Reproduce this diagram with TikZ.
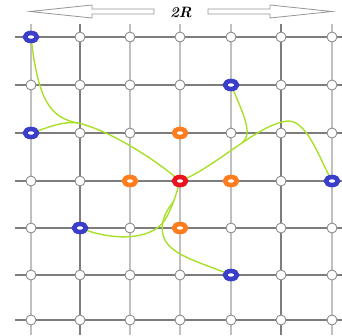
\documentclass[tikz,border=0pt]{standalone}
\usetikzlibrary{shapes.geometric}
\definecolor{ringblue}{RGB}{58,62,200}
\definecolor{ringorange}{RGB}{255,125,30}
\definecolor{ringred}{RGB}{232,20,32}
\definecolor{curvegreen}{RGB}{168,224,40}
\definecolor{griddark}{RGB}{125,125,125}
\definecolor{gridlight}{RGB}{192,192,192}
\definecolor{nodegray}{RGB}{140,140,140}
\definecolor{arrowgray}{RGB}{150,150,150}
\pgfdeclarelayer{gridlayer}
\pgfdeclarelayer{curvelayer}
\pgfsetlayers{gridlayer,curvelayer,main}
\def\setkind#1#2#3{\expandafter\def\csname nodekind#1-#2\endcsname{#3}}
\setkind{1}{1}{bluering}
\setkind{5}{2}{bluering}
\setkind{1}{3}{bluering}
\setkind{7}{4}{bluering}
\setkind{2}{5}{bluering}
\setkind{5}{6}{bluering}
\setkind{4}{3}{orangering}
\setkind{3}{4}{orangering}
\setkind{5}{4}{orangering}
\setkind{4}{5}{orangering}
\setkind{4}{4}{redring}
\begin{document}
\begin{tikzpicture}[x=1pt,y=-1pt,
  plain/.style={circle,draw=nodegray,fill=white,line width=0.9pt,minimum size=10pt,inner sep=0pt},
  ring/.style={ellipse,fill=white,line width=4.6pt,minimum width=12pt,minimum height=8pt,inner sep=0pt},
  bluering/.style={ring,draw=ringblue},
  orangering/.style={ring,draw=ringorange},
  redring/.style={ring,draw=ringred},
  curve/.style={draw=curvegreen,line width=1.4pt},
  hline/.style={draw=griddark,line width=1.5pt},
  vlight/.style={draw=gridlight,line width=1.5pt},
  vdark/.style={draw=griddark,line width=1.5pt},
  openarrow/.style={draw=arrowgray,fill=white,line width=0.8pt,line join=miter},
  label/.style={font=\fontsize{15}{15}\selectfont\bfseries\itshape,inner sep=0pt}
]
\useasboundingbox (0,0) rectangle (342,335);
% nodes
\foreach \x [count=\i] in {31,80,130,180,231,281,332}{
  \foreach \y [count=\j] in {37,85,133,181,228,275,320}{
    \ifcsname nodekind\i-\j\endcsname
      \expandafter\let\expandafter\kind\csname nodekind\i-\j\endcsname
    \else
      \def\kind{plain}
    \fi
    \node[\kind] (n\i-\j) at (\x,\y) {};
  }
}
% grid
\begin{pgfonlayer}{gridlayer}
  \foreach \x/\s in {31/vlight,80/vdark,130/vlight,180/vlight,231/vlight,281/vdark,332/vlight}
    \draw[\s] (\x,24) -- (\x,335);
  \foreach \y in {37,85,133,181,228,275,320}
    \draw[hline] (15,\y) -- (342,\y);
\end{pgfonlayer}
% curves
\begin{pgfonlayer}{curvelayer}
  \coordinate (jA) at (78,123);
  \draw[curve] (n1-1.center) .. controls (38,100) and (50,118) .. (jA)
     .. controls (105,129) and (150,155) .. (n4-4.center);
  \draw[curve] (n1-3.center) .. controls (50,127) and (62,121) .. (jA);
  \draw[curve] (n7-4.center) .. controls (320,160) and (308,122) .. (289,121)
     .. controls (260,122) and (215,168) .. (n4-4.center) coordinate[pos=0.45] (jC);
  \draw[curve] (n5-2.center) .. controls (244,115) and (253,134) .. (jC);
  \draw[curve] (n2-5.center) .. controls (110,240) and (150,242) .. (165,220)
     .. controls (172,208) and (176,195) .. (n4-4.center) coordinate[pos=0.5] (jE);
  \draw[curve] (n5-6.center) .. controls (200,262) and (168,255) .. (163,235)
     .. controls (160,222) and (166,211) .. (jE);
\end{pgfonlayer}
% top arrows and label
\node[label] (lbl) at (181,12) {2R};
\draw[openarrow] (154,9) -- (92,9) -- (92,5) -- (30,11.5) -- (92,18) -- (92,14) -- (154,14) -- cycle;
\draw[openarrow] (208,9) -- (270,9) -- (270,5) -- (332,11.5) -- (270,18) -- (270,14) -- (208,14) -- cycle;
\end{tikzpicture}
\end{document}
